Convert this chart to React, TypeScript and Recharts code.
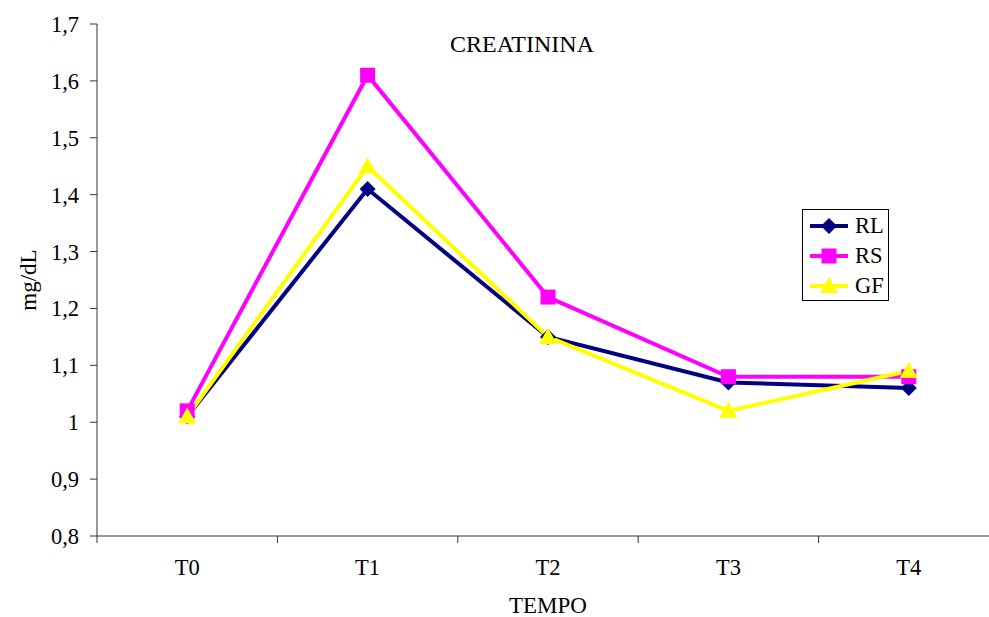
import React from 'react';
import { LineChart, Line, XAxis, YAxis, Legend } from 'recharts';

const categories = ['T0', 'T1', 'T2', 'T3', 'T4'];
const rlValues = [1.01, 1.41, 1.15, 1.07, 1.06];
const rsValues = [1.02, 1.61, 1.22, 1.08, 1.08];
const gfValues = [1.01, 1.45, 1.15, 1.02, 1.09];
const yTicks = [0.8, 0.9, 1.0, 1.1, 1.2, 1.3, 1.4, 1.5, 1.6, 1.7];

const data = categories.map((c, i) => ({ cat: c, RL: rlValues[i], RS: rsValues[i], GF: gfValues[i] }));

const NAVY = '#000080';
const MAGENTA = '#FF00FF';
const YELLOW = '#FFFF00';
const FONT = '"Liberation Serif", "Times New Roman", serif';
const HALF_BAND = 90.2;

const Diamond = ({ cx, cy }: any) => (
  <polygon points={`${cx},${cy - 8} ${cx + 8},${cy} ${cx},${cy + 8} ${cx - 8},${cy}`} fill={NAVY} />
);
const Square = ({ cx, cy }: any) => <rect x={cx - 7.5} y={cy - 7.5} width={15} height={15} fill={MAGENTA} />;
const Triangle = ({ cx, cy }: any) => (
  <polygon points={`${cx},${cy - 9} ${cx + 9},${cy + 7} ${cx - 9},${cy + 7}`} fill={YELLOW} />
);

const makeDot = (Shape: any) => (props: any) => {
  const { cx, cy, index } = props;
  if (cx == null || cy == null) return <g key={`d-${index}`} />;
  return <Shape key={`d-${index}`} cx={cx} cy={cy} />;
};

const XTick = (props: any) => {
  const { x, y, payload, index } = props;
  return (
    <g>
      {index === 0 && <line x1={x - HALF_BAND} x2={x - HALF_BAND} y1={y} y2={y + 7} stroke="#333" />}
      <line x1={x + HALF_BAND} x2={x + HALF_BAND} y1={y} y2={y + 7} stroke="#333" />
      <text x={x} y={y + 39} textAnchor="middle" fontFamily={FONT} fontSize={22.5} fill="#000">
        {payload.value}
      </text>
    </g>
  );
};

const legendItems = [
  { name: 'RL', color: NAVY, Shape: Diamond },
  { name: 'RS', color: MAGENTA, Shape: Square },
  { name: 'GF', color: YELLOW, Shape: Triangle },
];

const LegendContent = () => (
  <div style={{ width: 85, height: 89, border: '1px solid #000', background: '#fff', paddingTop: 1, boxSizing: 'content-box' }}>
    {legendItems.map((it) => (
      <div key={it.name} style={{ height: 30, display: 'flex', alignItems: 'center' }}>
        <svg width={52} height={30} style={{ display: 'block' }}>
          <line x1={7} x2={45} y1={15} y2={15} stroke={it.color} strokeWidth={4} />
          <it.Shape cx={26} cy={15} />
        </svg>
        <span style={{ fontFamily: FONT, fontSize: 22.5, color: '#000', lineHeight: '30px' }}>{it.name}</span>
      </div>
    ))}
  </div>
);

export default function App() {
  return (
    <div style={{ position: 'absolute', left: 0, top: 0, width: 989, height: 617, overflow: 'hidden', background: '#fff' }}>
      <LineChart width={1000} height={617} data={data} margin={{ top: 24, right: 1, left: 0, bottom: 0 }}>
        <text x={522} y={52} textAnchor="middle" fontFamily={FONT} fontSize={24} fill="#000">
          CREATININA
        </text>
        <XAxis
          dataKey="cat"
          height={81}
          padding={{ left: HALF_BAND, right: HALF_BAND }}
          tickLine={false}
          tickSize={0}
          tickMargin={0}
          axisLine={{ stroke: '#333', strokeWidth: 1 }}
          tick={<XTick />}
          interval={0}
          label={{ value: 'TEMPO', position: 'insideBottom', offset: 4, fontFamily: FONT, fontSize: 23, fill: '#000' }}
        />
        <YAxis
          width={97}
          domain={[0.8, 1.7]}
          ticks={yTicks}
          allowDataOverflow
          tickSize={7}
          tickMargin={11}
          tickLine={{ stroke: '#333' }}
          axisLine={{ stroke: '#333', strokeWidth: 1 }}
          tick={{ fontFamily: FONT, fontSize: 22.5, fill: '#000' }}
          tickFormatter={(v: number) => String(Math.round(v * 10) / 10).replace('.', ',')}
          label={{
            content: (p: any) => {
              const vb = p.viewBox || { x: 0, y: 24, width: 97, height: 512 };
              const cx = vb.x + 28;
              const cy = vb.y + vb.height / 2;
              return (
                <text
                  x={cx}
                  y={cy}
                  transform={`rotate(-90 ${cx} ${cy})`}
                  textAnchor="middle"
                  dominantBaseline="central"
                  fontFamily={FONT}
                  fontSize={23}
                  fill="#000"
                >
                  mg/dL
                </text>
              );
            },
          }}
        />
        <Legend
          layout="vertical"
          align="center"
          verticalAlign="middle"
          content={<LegendContent />}
          wrapperStyle={{ position: 'absolute', left: 802, top: 209, width: 87, height: 91 }}
        />
        <Line dataKey="RL" stroke={NAVY} strokeWidth={4} dot={makeDot(Diamond)} activeDot={false} isAnimationActive={false} />
        <Line dataKey="RS" stroke={MAGENTA} strokeWidth={4} dot={makeDot(Square)} activeDot={false} isAnimationActive={false} />
        <Line dataKey="GF" stroke={YELLOW} strokeWidth={4} dot={makeDot(Triangle)} activeDot={false} isAnimationActive={false} />
      </LineChart>
    </div>
  );
}
